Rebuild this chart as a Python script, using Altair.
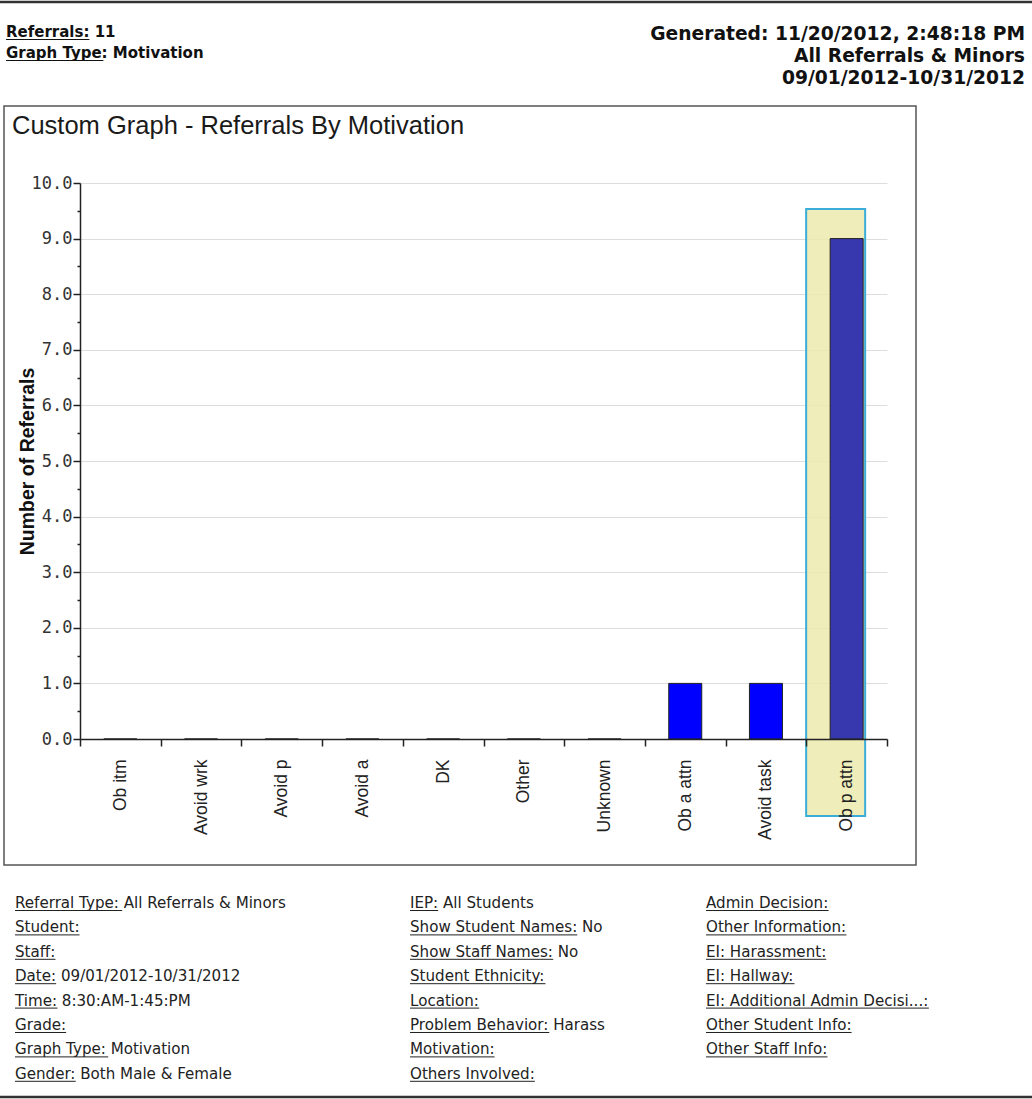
import altair as alt
import pandas as pd

# ---------------- data ----------------
categories = ["Ob itm", "Avoid wrk", "Avoid p", "Avoid a", "DK", "Other",
              "Unknown", "Ob a attn", "Avoid task", "Ob p attn"]
referrals = [0, 0, 0, 0, 0, 0, 0, 1, 1, 9]
highlighted = "Ob p attn"
y_ticks = [i / 2 for i in range(21)]

header_left_labels = ["Referrals:", "Graph Type"]
header_left_values = [" 11", ": Motivation"]
header_right = ["Generated: 11/20/2012, 2:48:18 PM", "All Referrals & Minors",
                "09/01/2012-10/31/2012"]
chart_title = "Custom Graph - Referrals By Motivation"
y_title = "Number of Referrals"

footer_col1_labels = ["Referral Type:", "Student:", "Staff:", "Date:", "Time:", "Grade:",
                      "Graph Type:", "Gender:"]
footer_col1_values = ["All Referrals & Minors", "", "", "09/01/2012-10/31/2012",
                      "8:30:AM-1:45:PM", "", "Motivation", "Both Male & Female"]
footer_col2_labels = ["IEP:", "Show Student Names:", "Show Staff Names:", "Student Ethnicity:",
                      "Location:", "Problem Behavior:", "Motivation:", "Others Involved:"]
footer_col2_values = ["All Students", "No", "No", "", "", "Harass", "", ""]
footer_col3_labels = ["Admin Decision:", "Other Information:", "EI: Harassment:", "EI: Hallway:",
                      "EI: Additional Admin Decisi...:", "Other Student Info:",
                      "Other Staff Info:"]
footer_col3_values = ["", "", "", "", "", "", ""]

# ---------------- text metrics (DejaVu Sans advance widths, units / 2048) ----------------
REG = {" ": 651, "!": 821, "&": 1597, ",": 651, "-": 739, ".": 651, "/": 690, ":": 690,
       "A": 1401, "B": 1405, "C": 1430, "D": 1577, "E": 1294, "F": 1178, "G": 1587, "H": 1540,
       "I": 604, "J": 604, "K": 1343, "L": 1141, "M": 1767, "N": 1532, "O": 1612, "P": 1235,
       "Q": 1612, "R": 1423, "S": 1300, "T": 1251, "U": 1499, "V": 1401, "W": 2025, "X": 1403,
       "Y": 1251, "Z": 1403, "a": 1255, "b": 1300, "c": 1126, "d": 1300, "e": 1260, "f": 721,
       "g": 1300, "h": 1298, "i": 569, "j": 569, "k": 1186, "l": 569, "m": 1995, "n": 1298,
       "o": 1253, "p": 1300, "q": 1300, "r": 842, "s": 1067, "t": 803, "u": 1298, "v": 1212,
       "w": 1675, "x": 1212, "y": 1212, "z": 1075}
BOLD = {" ": 713, ":": 819, "R": 1577, "e": 1389, "f": 891, "r": 1010, "a": 1382, "l": 702,
        "s": 1219, "G": 1681, "p": 1466, "h": 1458, "T": 1399, "y": 1331}


def text_width(s, size, table):
    return sum(table.get(ch, 1300) for ch in s) / 2048 * size


# ---------------- layout ----------------
W, H = 807, 556
PAD = {"left": 80, "top": 183, "right": 145, "bottom": 360}

df = pd.DataFrame({"Motivation": categories, "Referrals": referrals})
one = pd.DataFrame({"k": [0]})

x_axis = alt.Axis(
    title=None, labelAngle=270, labelFont="Liberation Sans", labelFontSize=17.5,
    labelColor="#222", labelPadding=13, tickSize=7, tickColor="#222", tickWidth=1.5,
    domainColor="#222", domainWidth=1.5, tickBand="extent", zindex=1, labelLimit=300,
)
x_enc = alt.X("Motivation:N", sort=categories,
              scale=alt.Scale(domain=categories, padding=0), axis=x_axis)

y_axis = alt.Axis(
    values=y_ticks,
    labelExpr="datum.value % 1 ? '' : format(datum.value, '.1f')",
    tickSize={"condition": {"test": "datum.value % 1 !== 0", "value": 3}, "value": 7},
    gridOpacity={"condition": {"test": "datum.value % 1 !== 0", "value": 0}, "value": 1},
    gridColor="#DDDDDD", gridWidth=1,
    title=y_title, titleFont="Liberation Sans", titleFontSize=19.5, titleFontWeight="bold",
    titleColor="#111", titleX=-53, titleY=H / 2, titleAngle=270, titleAlign="center",
    titleBaseline="middle",
    labelFont="DejaVu Sans Mono", labelFontSize=17, labelColor="#333", labelPadding=1,
    domainColor="#222", domainWidth=1.5, tickColor="#222", tickWidth=1.5,
)

box = alt.Chart(one).mark_rect(fillOpacity=0, stroke="#555", strokeWidth=1.5).encode(
    x=alt.value(-76), x2=alt.value(836), y=alt.value(-77), y2=alt.value(682))
top_line = alt.Chart(one).mark_rule(color="#333", strokeWidth=2.5).encode(
    x=alt.value(-80), x2=alt.value(952), y=alt.value(-181))
bottom_line = alt.Chart(one).mark_rule(color="#333", strokeWidth=2.5).encode(
    x=alt.value(-80), x2=alt.value(952), y=alt.value(914))

highlight = alt.Chart(pd.DataFrame({"Motivation": [highlighted]})).mark_bar(
    size=59, xOffset=-11, fill="#ECEAAE", fillOpacity=0.85, stroke="#3AAED8",
    strokeWidth=2).encode(x=x_enc, y=alt.value(26), y2=alt.value(633))

bars = alt.Chart(df).mark_bar(size=33, stroke="#222", strokeWidth=1).encode(
    x=x_enc,
    y=alt.Y("Referrals:Q", scale=alt.Scale(domain=[0, 10], nice=False), axis=y_axis),
    color=alt.condition(alt.datum.Motivation == highlighted,
                        alt.value("#3838AE"), alt.value("#0000FF")),
)


def text_layer(lines, x, y, size, weight="normal", align="left",
               font="DejaVu Sans", line_height=20, color="#111"):
    return alt.Chart(one).mark_text(
        text=lines, align=align, baseline="alphabetic", font=font, fontSize=size,
        fontWeight=weight, color=color, lineHeight=line_height,
    ).encode(x=alt.value(x), y=alt.value(y))


def underline(x, y, width, color="#222"):
    return alt.Chart(one).mark_rule(color=color, strokeWidth=1).encode(
        x=alt.value(x), x2=alt.value(x + width), y=alt.value(y))


def labelled_block(labels, values, x, y, size, line_height, table, weight="normal",
                   color="#222", sep=" "):
    lines = [(lab + (sep + val if val else "")) for lab, val in zip(labels, values)]
    out = [text_layer(lines, x, y, size, weight=weight, line_height=line_height, color=color)]
    for i, lab in enumerate(labels):
        out.append(underline(x, y + i * line_height + 2.5, text_width(lab, size, table), color))
    return out


layers = [top_line, bottom_line, box, highlight, bars]

# header (left: underlined labels)
layers += labelled_block(header_left_labels, header_left_values, -74, -146, 15, 21, BOLD,
                         weight="bold", color="#111", sep="")
layers.append(text_layer(header_right, 945, -143, 18.7, weight="bold", align="right",
                         line_height=22))
layers.append(text_layer([chart_title], -68, -49, 25.5, font="Liberation Sans", color="#1a1a1a"))

# footer
FOOT_Y, FOOT_LH, FOOT_SIZE = 725, 24.4, 15.1
layers += labelled_block(footer_col1_labels, footer_col1_values, -65, FOOT_Y, FOOT_SIZE,
                         FOOT_LH, REG)
layers += labelled_block(footer_col2_labels, footer_col2_values, 330, FOOT_Y, FOOT_SIZE,
                         FOOT_LH, REG)
layers += labelled_block(footer_col3_labels, footer_col3_values, 626, FOOT_Y, FOOT_SIZE,
                         FOOT_LH, REG)

chart = alt.layer(*layers).properties(
    width=W, height=H, padding=PAD, autosize=alt.AutoSizeParams(type="none"),
    background="white",
).configure_view(stroke=None)

chart.save("out.html", embed_options={"renderer": "svg", "actions": False})
